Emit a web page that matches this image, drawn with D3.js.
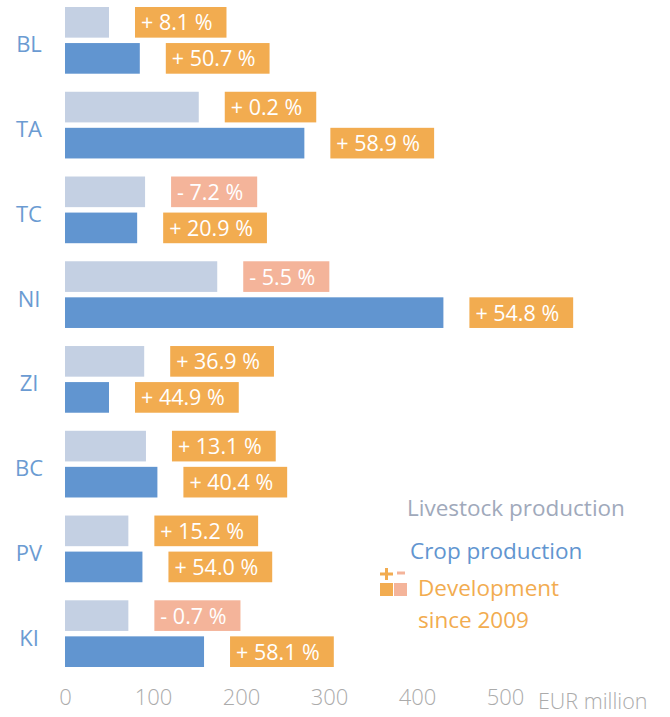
<!DOCTYPE html>
<html>
<head>
<meta charset="utf-8">
<script src="https://d3js.org/d3.v7.min.js"></script>
<style>
  body { margin: 0; background: #fff; }
  svg { font-family: "Open Sans", sans-serif; }
  .cat { font-size: 22px; fill: #6b9bd2; }
  .pct { font-size: 21.5px; fill: #fff; }
  .tick text { font-size: 22px; fill: #ababab; font-weight: 300; }
  .legend { font-size: 22.5px; }
</style>
</head>
<body>
<script>
var categories = ["BL", "TA", "TC", "NI", "ZI", "BC", "PV", "KI"];
var livestock = [50, 152, 91, 173, 90, 92, 72, 72];
var crop = [85, 272, 82, 430, 50, 105, 88, 158];
var livestockChange = [8.1, 0.2, -7.2, -5.5, 36.9, 13.1, 15.2, -0.7];
var cropChange = [50.7, 58.9, 20.9, 54.8, 44.9, 40.4, 54.0, 58.1];
var ticks = [0, 100, 200, 300, 400, 500];

var width = 670, height = 717;
var colLive = "#c4d0e3", colCrop = "#6195d0", colUp = "#f2ac50", colDown = "#f4b49a";

var svg = d3.select("body").append("svg")
  .attr("width", width).attr("height", height);

var x = d3.scaleLinear().domain([0, 500]).range([65, 505]);
var y = d3.scaleBand().domain(categories).range([7, 667]).paddingInner(0.213).paddingOuter(0);
var sub = d3.scaleBand().domain(["live", "crop"]).range([0, y.bandwidth()]).paddingInner(0.15);

var rows = categories.map(function(c, i) {
  return {cat: c, bars: [
    {key: "live", value: livestock[i], change: livestockChange[i]},
    {key: "crop", value: crop[i], change: cropChange[i]}
  ]};
});

var fmt = d3.format(".1f");
function label(v) { return (v < 0 ? "- " : "+ ") + fmt(Math.abs(v)) + " %"; }

var groups = svg.selectAll(".row").data(rows).enter().append("g")
  .attr("class", "row")
  .attr("transform", function(d) { return "translate(0," + y(d.cat) + ")"; });

groups.append("text").attr("class", "cat")
  .attr("x", 29).attr("y", y.bandwidth() / 2 + 12)
  .attr("text-anchor", "middle")
  .text(function(d) { return d.cat; });

var bars = groups.selectAll(".bar").data(function(d) { return d.bars; }).enter()
  .append("g").attr("class", "bar");

bars.append("rect")
  .attr("x", x(0))
  .attr("y", function(d) { return sub(d.key); })
  .attr("width", function(d) { return x(d.value) - x(0); })
  .attr("height", sub.bandwidth())
  .attr("fill", function(d) { return d.key == "live" ? colLive : colCrop; });

// change boxes
bars.each(function(d) {
  var g = d3.select(this);
  var bx = x(d.value) + 26;
  var box = g.append("rect")
    .attr("x", bx).attr("y", sub(d.key))
    .attr("height", sub.bandwidth())
    .attr("fill", d.change < 0 ? colDown : colUp);
  var t = g.append("text").attr("class", "pct")
    .attr("x", bx + 6).attr("y", sub(d.key) + sub.bandwidth() / 2 + 8)
    .text(label(d.change));
  box.attr("width", t.node().getComputedTextLength() + 20);
});

// axis
var axis = svg.append("g").attr("transform", "translate(0,686)")
  .call(d3.axisBottom(x).tickValues(ticks).tickSize(0).tickPadding(0));
axis.select(".domain").remove();
axis.selectAll(".tick text").attr("dy", "0.88em").style("font-family", "Open Sans");
svg.append("text").attr("x", 538).attr("y", 709)
  .style("font-size", "21.5px").style("fill", "#ababab").style("font-weight", 300)
  .text("EUR million");

// legend
svg.append("text").attr("class", "legend").attr("x", 407).attr("y", 516)
  .attr("fill", "#a0a9bb").text("Livestock production");
svg.append("text").attr("class", "legend").attr("x", 410).attr("y", 559)
  .attr("fill", colCrop).text("Crop production");
svg.append("path").attr("d", "M380,574H393M386.5,568V580")
  .attr("stroke", colUp).attr("stroke-width", 3).attr("fill", "none");
svg.append("path").attr("d", "M397,573H405")
  .attr("stroke", colDown).attr("stroke-width", 3).attr("fill", "none");
svg.append("rect").attr("x", 380).attr("y", 583).attr("width", 13).attr("height", 13).attr("fill", colUp);
svg.append("rect").attr("x", 394).attr("y", 583).attr("width", 13).attr("height", 13).attr("fill", colDown);
svg.append("text").attr("class", "legend").attr("x", 418).attr("y", 596)
  .attr("fill", colUp).text("Development");
svg.append("text").attr("class", "legend").attr("x", 418).attr("y", 628)
  .attr("fill", colUp).text("since 2009");
</script>
</body>
</html>
